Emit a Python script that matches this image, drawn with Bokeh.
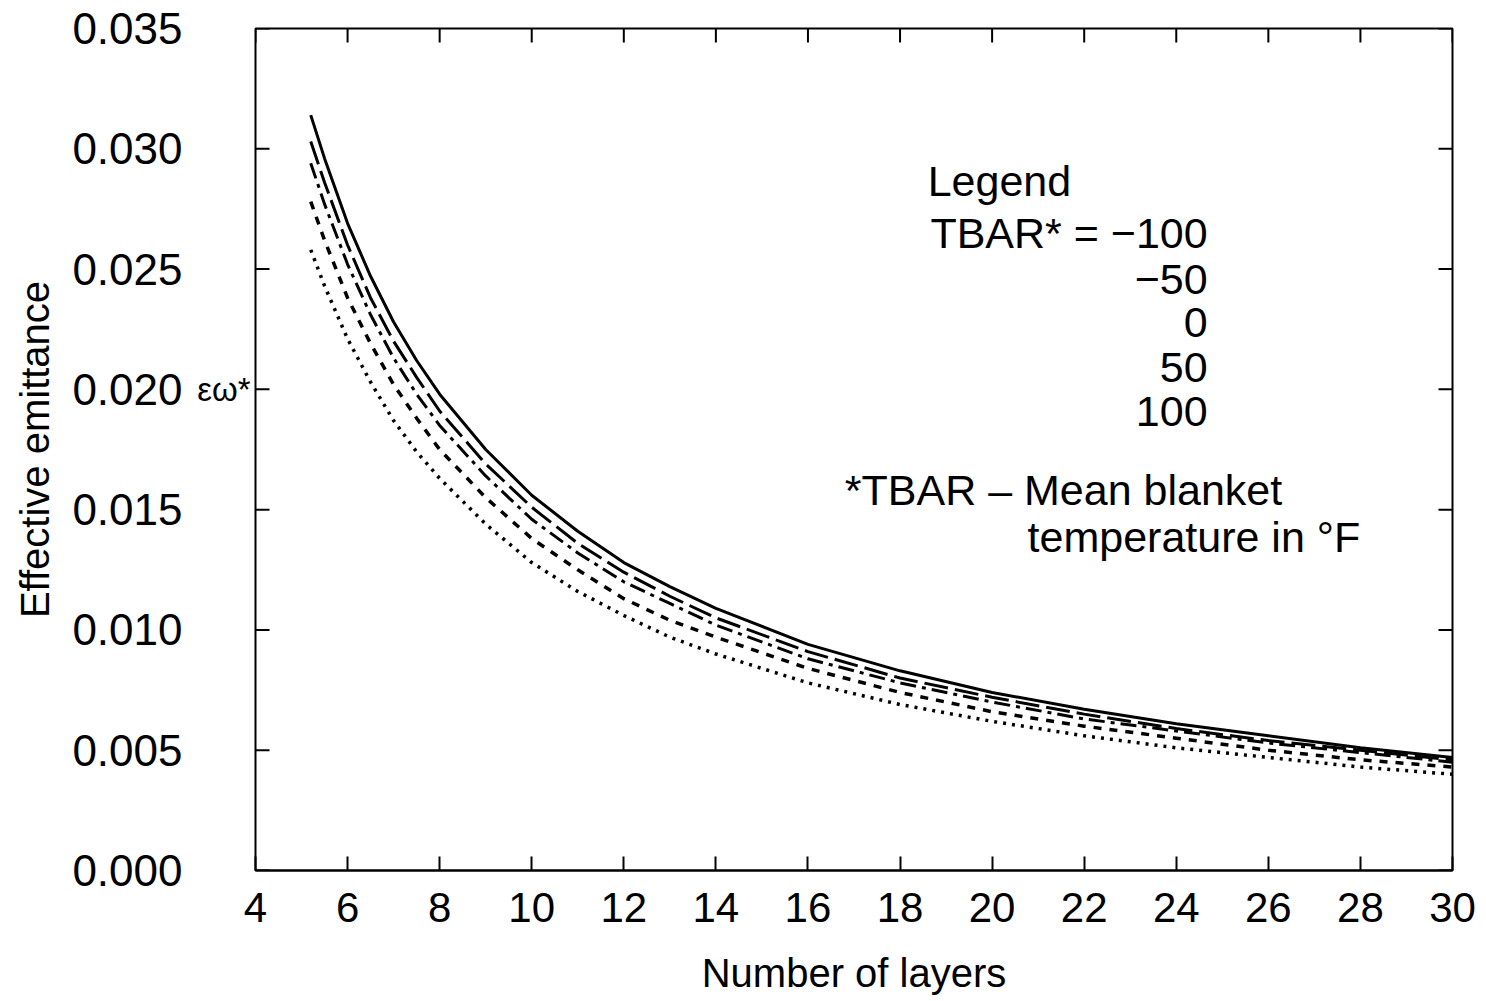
from math import pi
from bokeh.plotting import figure
from bokeh.models import FixedTicker, NumeralTickFormatter, LinearAxis, Label, Range1d
from bokeh.embed import file_html
from bokeh.resources import INLINE

# ---- data ----
layers = [5.2, 5.5, 6, 6.5, 7, 7.5, 8, 9, 10, 11, 12, 13, 14, 16, 18, 20, 22, 24, 26, 28, 30]
tbar_m100 = [0.0314, 0.0296, 0.0269, 0.0247, 0.0228, 0.0212, 0.0198, 0.0175, 0.0156, 0.0141, 0.0128,
             0.0118, 0.0109, 0.0094, 0.0083, 0.0074, 0.0067, 0.0061, 0.0056, 0.0051, 0.0047]
tbar_m50 = [0.0303, 0.0286, 0.0260, 0.0238, 0.0220, 0.0205, 0.0191, 0.0169, 0.0151, 0.0136, 0.0124,
            0.0114, 0.0105, 0.0091, 0.0080, 0.0072, 0.0065, 0.0059, 0.0054, 0.0050, 0.0046]
tbar_0 = [0.0294, 0.0277, 0.0252, 0.0231, 0.0213, 0.0198, 0.0185, 0.0164, 0.0146, 0.0132, 0.0120,
          0.0111, 0.0102, 0.0088, 0.0078, 0.0070, 0.0063, 0.0058, 0.0053, 0.0049, 0.0045]
tbar_50 = [0.0278, 0.0262, 0.0238, 0.0219, 0.0202, 0.0188, 0.0175, 0.0155, 0.0138, 0.0125, 0.0113,
           0.0104, 0.0097, 0.0084, 0.0074, 0.0066, 0.0060, 0.0055, 0.0050, 0.0046, 0.0043]
tbar_100 = [0.0258, 0.0243, 0.0221, 0.0203, 0.0187, 0.0174, 0.0163, 0.0144, 0.0128, 0.0116, 0.0106,
            0.0097, 0.0090, 0.0078, 0.0069, 0.0062, 0.0056, 0.0051, 0.0047, 0.0043, 0.0040]
temps = ["\u2212100", "\u221250", "0", "50", "100"]
x_ticks = [4, 6, 8, 10, 12, 14, 16, 18, 20, 22, 24, 26, 28, 30]
y_ticks = [0.0, 0.005, 0.010, 0.015, 0.020, 0.025, 0.030, 0.035]
symbol_tick = 0.020
symbol_text = "\u03b5\u03c9*"

FONT = "Liberation Sans"

p = figure(width=1486, height=1001, x_range=Range1d(4, 30), y_range=Range1d(0, 0.035),
           output_backend="svg", toolbar_location=None,
           min_border_left=255, min_border_right=34, min_border_top=28, min_border_bottom=131)
p.background_fill_color = "white"
p.border_fill_color = "white"
p.outline_line_color = "black"
p.outline_line_width = 2
p.grid.visible = False

# x axis (bottom)
xa = p.xaxis[0]
xa.ticker = FixedTicker(ticks=x_ticks)
xa.axis_label = "Number of layers"
xa.axis_line_color = "black"
xa.axis_line_width = 2
xa.major_tick_in = 14
xa.major_tick_out = 0
xa.major_tick_line_width = 2
xa.minor_tick_line_color = None
xa.major_label_standoff = 22
xa.axis_label_standoff = 26

# main y axis (labels only; sits outside the small symbol axis)
ya = p.yaxis[0]
ya.ticker = FixedTicker(ticks=y_ticks)
ya.formatter = NumeralTickFormatter(format="0.000")
ya.axis_label = "Effective emittance"
ya.axis_line_color = None
ya.major_tick_line_color = None
ya.minor_tick_line_color = None
ya.major_tick_in = 0
ya.major_tick_out = 0
ya.major_label_standoff = 12
ya.axis_label_standoff = 12

for ax in (xa, ya):
    ax.major_label_text_font = FONT
    ax.major_label_text_color = "black"
    ax.axis_label_text_font = FONT
    ax.axis_label_text_font_size = "40px"
    ax.axis_label_text_font_style = "normal"
    ax.axis_label_text_color = "black"
xa.major_label_text_font_size = "42px"
ya.major_label_text_font_size = "44px"

# small axis next to the frame carrying the superscript symbol at 0.020
sym = LinearAxis(ticker=FixedTicker(ticks=[symbol_tick]),
                 major_label_overrides={symbol_tick: symbol_text},
                 major_label_text_font=FONT, major_label_text_font_size="33px",
                 major_label_text_color="black", major_label_text_baseline="bottom",
                 major_label_standoff=5, axis_line_color=None, major_tick_line_color=None,
                 minor_tick_line_color=None, major_tick_in=0, major_tick_out=0)
p.left = [sym, ya]

# inward ticks on left, top and right frame edges
p.ray(x=x_ticks[0], y=y_ticks, length=14, length_units="screen", angle=0,
      line_color="black", line_width=2)
p.ray(x=x_ticks, y=y_ticks[-1], length=14, length_units="screen", angle=-pi / 2,
      line_color="black", line_width=2)
p.ray(x=x_ticks[-1], y=y_ticks, length=14, length_units="screen", angle=pi,
      line_color="black", line_width=2)

# ---- curves ----
p.line(layers, tbar_m100, line_color="black", line_width=3)
p.line(layers, tbar_m50, line_color="black", line_width=3, line_dash="24 7")
p.line(layers, tbar_0, line_color="black", line_width=3, line_dash="16 6 4 6")
p.line(layers, tbar_50, line_color="black", line_width=3.5, line_dash="8 8")
p.line(layers, tbar_100, line_color="black", line_width=3.5, line_dash="3 6")

# ---- legend texts ----
def lab(x, y, t, align="left", size="43px"):
    p.add_layout(Label(x=x, y=y, text=t, text_align=align, text_baseline="middle",
                       text_font=FONT, text_font_size=size, text_color="black"))

lab(18.6, 0.02868, "Legend")
lab(18.66, 0.02652, "TBAR* = " + temps[0])
lab(24.68, 0.02457, temps[1], "right")
lab(24.68, 0.02278, temps[2], "right")
lab(24.68, 0.02091, temps[3], "right")
lab(24.68, 0.01908, temps[4], "right")
lab(16.8, 0.01580, "*TBAR \u2013 Mean blanket")
lab(20.77, 0.01388, "temperature in \u00b0F")

open("out.html", "w").write(file_html(p, INLINE))
